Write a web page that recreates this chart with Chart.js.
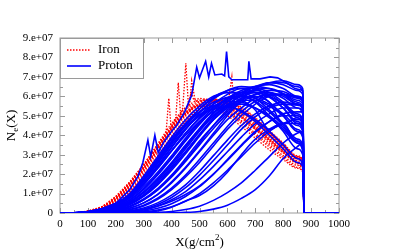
<!DOCTYPE html>
<html>
<head>
<meta charset="utf-8">
<script src="https://cdn.jsdelivr.net/npm/chart.js@4/dist/chart.umd.min.js"></script>
<style>
  html, body { margin: 0; padding: 0; background: #fff; }
  #wrap { width: 399px; height: 251px; }
</style>
</head>
<body>
<div id="wrap"><canvas id="showerChart"></canvas></div>
<script>
// shared depth grid in g/cm^2 (ground reached at ~875)
var depth = [0, 50, 100, 150, 200, 250, 300, 350, 400, 450, 500, 550, 600, 650, 700, 750, 800, 850, 870, 875, 1000];

// Ne(X) in units of 1e7, proton showers
var proton = [
    [0,0.01,0.07,0.22,0.5,1.0,1.9,2.9,3.9,4.8,5.5,6.0,6.2,6.1,5.7,5.0,4.2,3.3,3.0,0,0],
    [0,0.01,0.05,0.18,0.42,0.88,1.65,2.6,3.6,4.55,5.35,5.95,6.3,6.4,6.2,5.7,5.0,4.2,3.9,0,0],
    [0,0,0.04,0.15,0.37,0.78,1.5,2.4,3.35,4.3,5.15,5.85,6.3,6.5,6.4,6.0,5.4,4.6,4.3,0,0],
    [0,0,0.04,0.16,0.42,0.85,1.5,2.3,3.2,4.1,4.9,5.6,6.1,6.4,6.4,6.2,5.7,5.1,4.8,0,0],
    [0,0,0.03,0.12,0.32,0.68,1.25,2.0,2.85,3.75,4.6,5.3,5.9,6.3,6.5,6.4,6.1,5.6,5.3,0,0],
    [0,0,0.02,0.09,0.25,0.55,1.05,1.7,2.5,3.4,4.3,5.1,5.7,6.2,6.5,6.6,6.4,6.0,5.7,0,0],
    [0,0,0.01,0.06,0.18,0.42,0.85,1.45,2.2,3.05,3.95,4.8,5.5,6.1,6.5,6.7,6.6,6.3,6.1,0,0],
    [0,0,0.01,0.04,0.13,0.32,0.68,1.2,1.9,2.7,3.6,4.5,5.3,5.9,6.4,6.7,6.8,6.6,6.4,0,0],
    [0,0,0,0.03,0.09,0.24,0.52,0.96,1.6,2.35,3.2,4.1,5.0,5.8,6.4,6.7,6.7,6.5,6.25,0,0],
    [0,0.01,0.06,0.2,0.47,0.95,1.8,2.8,3.8,4.6,5.2,5.5,5.5,5.2,4.7,4.0,3.3,2.6,2.4,0,0],
    [0,0.01,0.05,0.18,0.43,0.9,1.65,2.55,3.5,4.35,5.0,5.5,5.75,5.7,5.4,4.9,4.3,3.6,3.3,0,0],
    [0,0,0.04,0.15,0.38,0.8,1.45,2.3,3.2,4.1,4.85,5.45,5.85,6.0,5.9,5.6,5.1,4.5,4.2,0,0],
    [0,0,0.03,0.13,0.36,0.75,1.35,2.1,2.95,3.85,4.7,5.4,5.9,6.2,6.2,6.0,5.6,5.0,4.7,0,0],
    [0,0,0.02,0.08,0.22,0.5,0.95,1.6,2.4,3.3,4.2,5.0,5.6,6.0,6.2,6.2,5.9,5.4,5.1,0,0],
    [0,0,0.01,0.05,0.15,0.36,0.72,1.25,1.95,2.8,3.7,4.5,5.2,5.8,6.1,6.2,6.0,5.6,5.4,0,0],
    [0,0,0,0.03,0.1,0.25,0.52,0.95,1.55,2.3,3.15,4.0,4.8,5.4,5.9,6.1,6.1,5.8,5.6,0,0],
    [0,0,0,0.02,0.06,0.16,0.36,0.7,1.2,1.85,2.6,3.45,4.3,5.0,5.6,6.0,6.1,6.0,5.9,0,0],
    [0,0,0,0.01,0.04,0.11,0.26,0.52,0.92,1.45,2.15,2.95,3.75,4.5,5.1,5.5,5.7,5.6,5.5,0,0],
    [0,0,0,0,0.02,0.07,0.17,0.36,0.68,1.1,1.7,2.4,3.15,3.9,4.6,5.1,5.4,5.4,5.3,0,0],
    [0,0,0,0,0.01,0.04,0.1,0.24,0.48,0.85,1.35,2.0,2.7,3.45,4.15,4.7,5.1,5.2,5.2,0,0],
    [0,0,0,0,0,0.02,0.06,0.15,0.32,0.6,1.0,1.55,2.2,2.9,3.6,4.2,4.6,4.8,4.8,0,0],
    [0,0,0,0,0.01,0.05,0.15,0.35,0.6,0.95,1.4,2.0,2.75,3.5,4.2,4.7,5.0,5.0,4.9,0,0],
    [0,0,0,0,0,0.01,0.03,0.1,0.3,0.62,0.9,1.4,2.1,3.0,3.8,4.3,4.6,4.6,4.5,0,0],
    [0,0,0,0,0,0,0.01,0.03,0.08,0.18,0.35,0.65,1.05,1.55,2.2,2.9,3.6,4.1,4.2,0,0],
    [0,0,0,0,0,0,0,0,0.01,0.03,0.08,0.2,0.4,0.75,1.2,1.9,2.8,3.4,3.6,0,0],
    [0,0.01,0.06,0.2,0.46,0.92,1.75,2.7,3.65,4.45,5.0,5.35,5.45,5.25,4.8,4.2,3.5,2.8,2.5,0,0],
    [0,0,0.04,0.16,0.4,0.82,1.5,2.35,3.2,4.0,4.7,5.2,5.5,5.6,5.4,5.0,4.4,3.7,3.4,0,0],
    [0,0,0.02,0.1,0.28,0.6,1.1,1.8,2.6,3.5,4.3,5.0,5.5,5.8,5.8,5.5,5.0,4.3,4.0,0,0],
    [0,0,0.01,0.07,0.2,0.46,0.9,1.5,2.3,3.15,4.0,4.8,5.4,5.9,6.0,5.7,4.6,4.9,4.4,0,0],
    [0,0.01,0.06,0.2,0.45,0.9,1.7,2.65,3.6,4.5,5.2,5.7,5.9,5.8,5.3,4.3,4.6,3.6,3.2,0,0],
    [0,0.01,0.06,0.2,0.46,0.95,1.75,2.7,3.7,4.6,5.35,5.9,6.2,6.2,5.9,5.3,4.6,3.8,3.5,0,0],
    [0,0,0.03,0.12,0.3,0.65,1.2,1.95,2.8,3.7,4.55,5.3,5.85,6.2,6.3,6.1,5.6,4.9,4.6,0,0],
    [0,0,0.02,0.08,0.21,0.47,0.9,1.5,2.3,3.15,4.05,4.9,5.55,6.05,6.35,6.4,6.15,5.7,5.45,0,0],
    [0,0,0.01,0.05,0.14,0.33,0.68,1.18,1.85,2.65,3.5,4.35,5.1,5.7,6.1,6.3,6.25,5.95,5.75,0,0],
    [0,0,0,0.02,0.07,0.18,0.4,0.76,1.28,1.95,2.75,3.6,4.45,5.2,5.75,6.05,6.1,5.9,5.75,0,0],
    [0,0,0,0.01,0.03,0.09,0.21,0.44,0.8,1.3,1.95,2.7,3.5,4.3,4.95,5.4,5.6,5.55,5.45,0,0],
    [0,0.01,0.05,0.17,0.4,0.84,1.55,2.45,3.4,4.3,5.05,5.6,5.95,6.0,5.75,5.2,4.5,3.7,3.4,0,0],
    [0,0,0.02,0.1,0.26,0.56,1.05,1.72,2.55,3.45,4.35,5.15,5.75,6.1,6.2,5.95,5.4,4.7,4.4,0,0]
];

// one noisy proton shower, read on its own depth points
var spikyProtonX = [0,50,100,150,200,250,280,297,315,325,340,352,370,400,418,447,472,490,500,522,533,543,555,580,590,597,605,616,650,673,677,685,717,753,780,812,842,870,875,1000];
var spikyProtonY = [0,0.01,0.07,0.22,0.5,1.2,1.9,2.6,3.75,2.9,4.0,3.1,3.6,4.2,4.5,5.2,6.06,7.5,6.95,7.8,7.0,7.7,7.1,7.15,7.05,8.3,7.0,6.85,6.85,6.85,7.8,6.9,6.9,7.0,6.95,6.7,6.4,6.3,0,0];

// iron showers
var iron = [
    [0,0.01,0.1,0.32,0.85,1.6,2.5,3.55,4.6,5.4,5.8,5.8,5.5,5.0,4.4,3.8,3.2,2.6,2.4,0,0],
    [0,0.01,0.09,0.29,0.78,1.5,2.38,3.42,4.45,5.3,5.75,5.85,5.6,5.1,4.5,3.9,3.3,2.7,2.5,0,0],
    [0,0,0.08,0.26,0.7,1.38,2.24,3.27,4.3,5.15,5.7,5.85,5.65,5.2,4.6,4.0,3.4,2.8,2.6,0,0],
    [0,0,0.07,0.23,0.63,1.27,2.1,3.1,4.12,5.0,5.6,5.85,5.7,5.3,4.75,4.15,3.5,2.9,2.7,0,0],
    [0,0.01,0.1,0.31,0.82,1.55,2.42,3.45,4.45,5.2,5.55,5.5,5.15,4.6,4.0,3.4,2.85,2.35,2.15,0,0],
    [0,0,0.06,0.21,0.58,1.18,1.98,2.95,3.95,4.85,5.5,5.8,5.75,5.3,4.7,4.05,3.4,2.8,2.6,0,0],
    [0,0,0.05,0.18,0.52,1.08,1.85,2.8,3.8,4.7,5.4,5.75,5.8,5.45,4.9,4.25,3.6,2.95,2.75,0,0],
    [0,0.01,0.09,0.28,0.75,1.45,2.32,3.35,4.35,5.1,5.5,5.5,5.2,4.7,4.1,3.5,2.95,2.45,2.25,0,0],
    [0,0,0.05,0.17,0.48,1.0,1.75,2.68,3.65,4.55,5.25,5.65,5.75,5.4,4.85,4.2,3.55,2.9,2.7,0,0],
    [0,0,0.08,0.27,0.72,1.4,2.28,3.3,4.3,5.1,5.6,5.7,5.45,4.95,4.35,3.75,3.15,2.6,2.4,0,0],
    [0,0.01,0.09,0.3,0.8,1.52,2.4,3.42,4.4,5.15,5.5,5.4,5.0,4.45,3.85,3.25,2.75,2.3,2.1,0,0],
    [0,0,0.07,0.24,0.66,1.32,2.18,3.2,4.2,5.05,5.6,5.8,5.6,5.2,4.7,4.1,3.45,2.85,2.65,0,0],
    [0,0,0.08,0.26,0.7,1.4,2.26,3.3,4.25,5.05,5.5,5.5,5.3,4.75,4.3,3.6,3.1,2.55,2.35,0,0],
    [0,0,0.05,0.19,0.54,1.12,1.9,2.86,3.85,4.7,5.35,5.7,5.75,5.35,4.8,4.15,3.5,2.85,2.65,0,0]
];

// two noisy iron showers on their own depth points
var spikyIronAX = [0,50,100,150,200,250,300,350,400,415,424,432,440,451,460,470,480,500,550,600,616,625,650,700,750,800,850,870,875,1000];
var spikyIronAY = [0,0.01,0.09,0.3,0.8,1.5,2.4,3.4,4.4,4.9,6.7,5.1,5.4,7.7,5.6,6.2,5.8,5.9,5.8,5.4,7.0,5.2,4.9,4.3,3.7,3.1,2.55,2.35,0,0];
var spikyIronBX = [0,50,100,150,200,250,300,350,380,390,398,410,440,465,472,483,490,520,560,600,650,700,750,800,850,870,875,1000];
var spikyIronBY = [0,0.01,0.1,0.32,0.85,1.6,2.5,3.5,4.1,5.9,4.4,4.7,5.3,5.6,6.8,5.9,5.7,5.8,5.7,5.4,4.95,4.4,3.8,3.2,2.65,2.45,0,0];

// axis ticks (Ne in 1e7)
var xTicks = { min: 0, max: 1000, step: 100, minor: 50 };
var yTicks = { min: 0, max: 9, step: 1, minor: 0.5 };

var BLUE = '#0000ff';
var RED = '#ff0000';
var SERIF = '"Liberation Serif", "DejaVu Serif", serif';

function pairs(xs, ys) {
    return xs.map(function (x, i) { return { x: x, y: ys[i] }; });
}

function protonSet(pts, smooth) {
    return { label: 'Proton', data: pts, borderColor: BLUE, borderWidth: 1.6,
             cubicInterpolationMode: smooth ? 'monotone' : 'default', tension: 0, order: 0 };
}
function ironSet(pts, smooth) {
    return { label: 'Iron', data: pts, borderColor: RED, borderWidth: 1.3, borderDash: [1.5, 1.5],
             cubicInterpolationMode: smooth ? 'monotone' : 'default', tension: 0, order: 1 };
}

var datasets = [];
// protons get order 0 so they are drawn over the iron
proton.forEach(function (ys) { datasets.push(protonSet(pairs(depth, ys), true)); });
datasets.push(protonSet(pairs(spikyProtonX, spikyProtonY), false));
iron.forEach(function (ys) { datasets.push(ironSet(pairs(depth, ys), true)); });
datasets.push(ironSet(pairs(spikyIronAX, spikyIronAY), false));
datasets.push(ironSet(pairs(spikyIronBX, spikyIronBY), false));

// frame with inward ticks on all four sides (gnuplot look)
var framePlugin = {
    id: 'frame',
    beforeDatasetsDraw: function (chart) {
        var c = chart.ctx, a = chart.chartArea;
        var sx = chart.scales.x, sy = chart.scales.y;
        c.save();
        c.strokeStyle = '#9a9a9a';
        c.lineWidth = 1;
        c.strokeRect(a.left, a.top, a.right - a.left, a.bottom - a.top);
        var v, p, len;
        for (v = xTicks.min; v <= xTicks.max; v += xTicks.minor) {
            p = Math.round(sx.getPixelForValue(v)) + 0.5;
            len = (v % xTicks.step === 0) ? 5 : 3;
            c.beginPath();
            c.moveTo(p, a.bottom); c.lineTo(p, a.bottom - len);
            c.moveTo(p, a.top); c.lineTo(p, a.top + len);
            c.stroke();
        }
        for (v = yTicks.min; v <= yTicks.max + 1e-9; v += yTicks.minor) {
            p = Math.round(sy.getPixelForValue(v)) + 0.5;
            len = (Math.abs(v - Math.round(v)) < 1e-6) ? 5 : 3;
            c.beginPath();
            c.moveTo(a.left, p); c.lineTo(a.left + len, p);
            c.moveTo(a.right, p); c.lineTo(a.right - len, p);
            c.stroke();
        }
        c.restore();
    },
    afterDraw: function (chart) {
        var c = chart.ctx, a = chart.chartArea;
        c.save();
        // legend box
        c.fillStyle = '#fff';
        c.fillRect(a.left, a.top, 83, 40);
        c.strokeStyle = '#9a9a9a';
        c.lineWidth = 1;
        c.strokeRect(a.left + 0.5, a.top + 0.5, 83, 40);
        c.lineWidth = 1.3;
        c.strokeStyle = RED;
        c.setLineDash([1.5, 1.5]);
        c.beginPath(); c.moveTo(a.left + 7, a.top + 12); c.lineTo(a.left + 31, a.top + 12); c.stroke();
        c.setLineDash([]);
        c.lineWidth = 1.6;
        c.strokeStyle = BLUE;
        c.beginPath(); c.moveTo(a.left + 7, a.top + 28); c.lineTo(a.left + 31, a.top + 28); c.stroke();
        c.fillStyle = '#000';
        c.font = '13px ' + SERIF;
        c.textBaseline = 'middle';
        c.textAlign = 'left';
        c.fillText('Iron', a.left + 38, a.top + 12);
        c.fillText('Proton', a.left + 38, a.top + 28);

        // x axis title X(g/cm^2)
        var xc = (a.left + a.right) / 2, yb = 246;
        c.font = '13px ' + SERIF;
        c.textBaseline = 'alphabetic';
        var t1 = 'X(g/cm', t2 = '2', t3 = ')';
        var w1 = c.measureText(t1).width, w3 = c.measureText(t3).width;
        c.font = '9px ' + SERIF;
        var w2 = c.measureText(t2).width;
        var x0 = xc - (w1 + w2 + w3) / 2;
        c.font = '13px ' + SERIF;
        c.fillText(t1, x0, yb);
        c.font = '9px ' + SERIF;
        c.fillText(t2, x0 + w1, yb - 6);
        c.font = '13px ' + SERIF;
        c.fillText(t3, x0 + w1 + w2, yb);

        // y axis title Ne(X), rotated
        c.translate(15, (a.top + a.bottom) / 2);
        c.rotate(-Math.PI / 2);
        var s1 = 'N', s2 = 'e', s3 = '(X)';
        var v1 = c.measureText(s1).width, v3 = c.measureText(s3).width;
        c.font = '9px ' + SERIF;
        var v2 = c.measureText(s2).width;
        var y0 = -(v1 + v2 + v3) / 2;
        c.font = '13px ' + SERIF;
        c.fillText(s1, y0, 0);
        c.font = '9px ' + SERIF;
        c.fillText(s2, y0 + v1, 3);
        c.font = '13px ' + SERIF;
        c.fillText(s3, y0 + v1 + v2, 0);
        c.restore();
    }
};

new Chart(document.getElementById('showerChart').getContext('2d'), {
    type: 'line',
    data: { datasets: datasets },
    options: {
        responsive: true,
        maintainAspectRatio: false,
        animation: false,
        layout: { padding: { top: 38, right: 60, left: 0, bottom: 0 } },
        elements: { point: { radius: 0 }, line: { fill: false } },
        plugins: {
            legend: { display: false },
            tooltip: { enabled: false }
        },
        scales: {
            x: {
                type: 'linear',
                min: xTicks.min, max: xTicks.max,
                grid: { display: false, drawTicks: false },
                border: { display: false },
                ticks: {
                    stepSize: xTicks.step, padding: 5, color: '#000', font: { family: SERIF, size: 11 }, maxRotation: 0,
                    callback: function (v) { return String(v); }
                },
                afterFit: function (s) { s.height = 38; }
            },
            y: {
                type: 'linear',
                min: yTicks.min, max: yTicks.max,
                grid: { display: false, drawTicks: false },
                border: { display: false },
                ticks: {
                    stepSize: yTicks.step, padding: 7, color: '#000', font: { family: SERIF, size: 11 },
                    callback: function (v) { return v === 0 ? '0' : v + '.e+07'; }
                },
                afterFit: function (s) { s.width = 60; }
            }
        }
    },
    plugins: [framePlugin]
});
</script>
</body>
</html>
